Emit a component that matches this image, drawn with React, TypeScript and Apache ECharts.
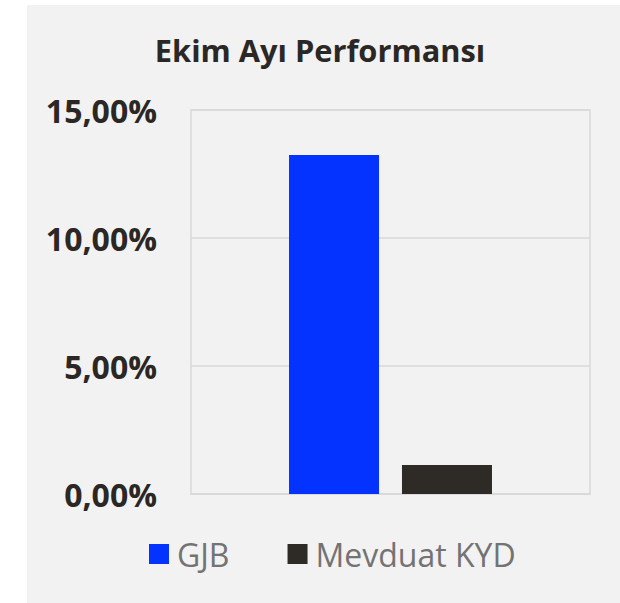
import React, { useEffect, useRef } from "react";
import * as echarts from "echarts";

const categories = ["Ekim"];
const seriesNames = ["GJB", "Mevduat KYD"];
const gjbValues = [13.24];
const mevduatValues = [1.13];
const yTicks = [0, 5, 10, 15];
const titleText = "Ekim Ayı Performansı";

export default function App() {
  const ref = useRef<HTMLDivElement>(null);
  useEffect(() => {
    if (!ref.current) return;
    const chart = echarts.init(ref.current, undefined, { renderer: "svg" });
    const font = "'Open Sans', 'DejaVu Sans', sans-serif";
    chart.setOption({
      animation: false,
      backgroundColor: "#ffffff",
      graphic: [
        {
          type: "rect",
          z: -10,
          silent: true,
          shape: { x: 27, y: 5, width: 593, height: 598 },
          style: { fill: "#f2f2f2" },
        },
      ],
      title: {
        text: titleText,
        left: 315,
        textAlign: "center",
        top: 29,
        textStyle: {
          fontFamily: font,
          fontSize: 30.8,
          fontWeight: "bold",
          color: "#2b2724",
        },
      },
      legend: {
        data: seriesNames,
        left: 144,
        top: 533,
        icon: "rect",
        itemWidth: 20,
        itemHeight: 20,
        itemGap: 58,
        textStyle: {
          fontFamily: font,
          fontSize: 32,
          color: "#737373",
          padding: [0, 0, 0, 3],
        },
      },
      grid: {
        left: 191,
        right: 30,
        top: 110,
        bottom: 109,
        show: true,
        borderColor: "#d9d9d9",
        borderWidth: 1.5,
        backgroundColor: "transparent",
      },
      xAxis: {
        type: "category",
        data: categories,
        axisLine: { show: true, lineStyle: { color: "#d9d9d9", width: 1.5 } },
        axisTick: { show: false },
        axisLabel: { show: false },
      },
      yAxis: {
        type: "value",
        min: yTicks[0],
        max: yTicks[yTicks.length - 1],
        interval: 5,
        axisLine: { show: false },
        axisTick: { show: false },
        splitLine: { lineStyle: { color: "#d9d9d9", width: 1.5 } },
        axisLabel: {
          margin: 34,
          fontFamily: font,
          fontSize: 32,
          fontWeight: "bold",
          color: "#2b2724",
          formatter: (v: number) => v.toFixed(2).replace(".", ",") + "%",
        },
      },
      series: [
        {
          name: seriesNames[0],
          type: "bar",
          data: gjbValues,
          barWidth: 90,
          barGap: "25.5%",
          itemStyle: { color: "#0433ff" },
        },
        {
          name: seriesNames[1],
          type: "bar",
          data: mevduatValues,
          barWidth: 90,
          barGap: "25.5%",
          itemStyle: { color: "#2e2a25" },
        },
      ],
    });
    return () => chart.dispose();
  }, []);
  return (
    <div
      ref={ref}
      style={{ position: "absolute", left: 0, top: 0, width: 620, height: 603 }}
    />
  );
}
